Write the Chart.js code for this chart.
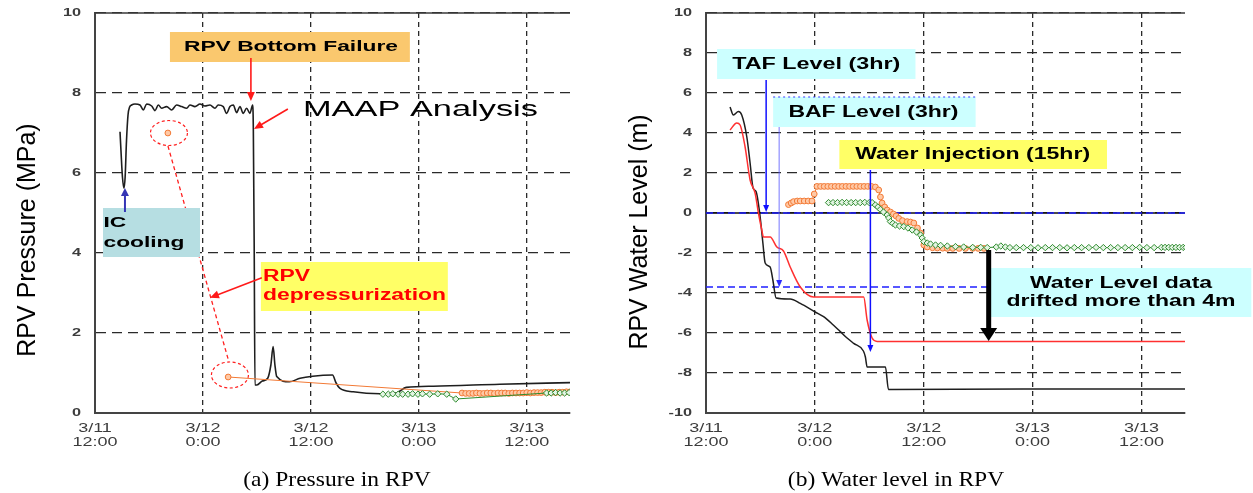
<!DOCTYPE html>
<html>
<head>
<meta charset="utf-8">
<script src="https://cdn.jsdelivr.net/npm/chart.js@4.4.0/dist/chart.umd.min.js"></script>
<style>
    html, body { margin: 0; padding: 0; background: #fff; }
    #wrap { position: relative; width: 1253px; height: 493px; overflow: hidden; background: #fff; }
    canvas { position: absolute; top: 0; }
</style>
</head>
<body>
<div id="wrap">
    <canvas id="pressureChart" width="620" height="493" style="left:0;width:620px;height:493px"></canvas>
    <canvas id="levelChart" width="633" height="493" style="left:620px;width:633px;height:493px"></canvas>
</div>
<script>
// x values are hours after 3/11 12:00
var xTickLabels = [['3/11', '12:00'], ['3/12', '0:00'], ['3/12', '12:00'], ['3/13', '0:00'], ['3/13', '12:00']];

// (a) RPV pressure, MPa
var pressureMaapHours = [2.78, 2.9, 3.05, 3.22, 3.35, 3.5, 3.67, 3.85, 4.07, 4.44, 5.0, 5.37, 5.74, 6.3, 6.67, 7.04, 7.41, 7.96, 8.52, 9.07, 9.63, 10.19, 10.56, 11.11, 11.67, 12.22, 12.78, 13.33, 13.7, 14.26, 14.63, 15.0, 15.37, 15.74, 16.11, 16.48, 16.85, 17.22, 17.52, 17.6, 17.7, 17.78, 18.0, 18.6, 19.2, 19.55, 19.8, 20.0, 20.2, 21.6, 22.8, 24.2, 26.4, 26.8, 27.2, 28.7, 31.7, 33.5, 34.6, 37.6, 45.0, 52.8];
var pressureMaapValues = [7.03, 6.5, 5.9, 5.62, 5.9, 6.8, 7.45, 7.65, 7.7, 7.725, 7.7, 7.575, 7.725, 7.675, 7.56, 7.7, 7.62, 7.66, 7.575, 7.7, 7.66, 7.62, 7.7, 7.66, 7.725, 7.675, 7.7, 7.62, 7.7, 7.66, 7.49, 7.66, 7.7, 7.51, 7.66, 7.49, 7.62, 7.49, 7.7, 7.1, 4.0, 0.7, 0.7, 0.8, 0.87, 1.2, 1.66, 1.2, 0.91, 0.78, 0.87, 0.92, 0.95, 0.75, 0.62, 0.53, 0.48, 0.5, 0.64, 0.67, 0.72, 0.76];
var pressureOrangeHours = [8.1, 11.0, 14.8, 40.8, 41.2, 41.6, 42.0, 42.4, 42.8, 43.2, 43.6, 44.0, 44.4, 44.8, 45.2, 45.6, 46.0, 46.4, 46.8, 47.2, 47.6, 48.0, 48.4, 48.8, 49.2, 49.6, 50.0, 50.4, 50.8, 51.2, 51.6, 52.0, 52.4, 52.8];
var pressureOrangeValues = [7.0, null, 0.9, 0.5, 0.49, 0.49, 0.49, 0.5, 0.49, 0.49, 0.5, 0.5, 0.49, 0.5, 0.5, 0.5, 0.49, 0.5, 0.5, 0.5, 0.5, 0.51, 0.5, 0.51, 0.51, 0.51, 0.52, 0.52, 0.52, 0.51, 0.52, 0.52, 0.53, 0.53];
var pressureGreenHours = [32.0, 32.6, 33.1, 33.7, 34.2, 34.8, 35.3, 35.9, 36.4, 37.2, 38.1, 39.1, 40.1, 50.2, 50.7, 51.2, 51.7, 52.2, 52.7];
var pressureGreenValues = [0.47, 0.47, 0.48, 0.47, 0.47, 0.47, 0.48, 0.47, 0.48, 0.47, 0.48, 0.47, 0.35, 0.5, 0.5, 0.51, 0.5, 0.5, 0.51];

// (b) RPV water level, m
var levelMaapHours = [2.65, 3.02, 3.57, 3.94, 4.5, 4.86, 5.19, 5.52, 5.97, 6.27, 6.52, 7.07, 7.37, 7.73, 9.28, 10.39, 12.04, 12.96, 14.03, 14.8, 15.55, 16.28, 17.35, 17.57, 17.76, 19.78, 20.11, 35.0, 52.9];
var levelMaapValues = [5.3, 4.9, 5.07, 4.9, 3.8, 2.5, 1.25, 1.07, -0.2, -1.5, -2.5, -2.7, -3.35, -4.25, -4.3, -4.52, -4.95, -5.18, -5.6, -5.93, -6.25, -6.52, -6.9, -7.2, -7.7, -7.7, -8.82, -8.8, -8.8];
var levelRedHours = [2.65, 3.39, 3.76, 4.31, 4.86, 5.41, 5.78, 6.15, 6.33, 7.07, 7.81, 8.54, 9.28, 10.39, 11.86, 17.38, 17.76, 18.31, 18.86, 52.9];
var levelRedValues = [4.15, 4.5, 4.4, 3.3, 1.65, 1.0, 0.0, -0.85, -1.2, -1.2, -1.7, -1.9, -2.7, -3.7, -4.2, -4.2, -5.35, -6.25, -6.42, -6.43];
var levelOrangeHours = [9.09, 9.39, 9.65, 10.06, 10.39, 10.83, 11.27, 11.68, 11.93, 12.23, 12.63, 13.03, 13.43, 13.83, 14.23, 14.63, 15.03, 15.43, 15.83, 16.23, 16.63, 17.03, 17.43, 17.83, 18.23, 18.67, 19.04, 19.23, 19.41, 19.7, 19.97, 20.33, 20.66, 20.95, 21.25, 21.66, 22.18, 22.54, 22.91, 23.31, 23.65, 24.01, 24.39, 24.97, 25.5, 26.1, 26.6, 27.2, 27.9, 28.6, 29.4, 30.0, 30.64];
var levelOrangeValues = [0.42, 0.5, 0.57, 0.6, 0.6, 0.6, 0.6, 0.6, 0.95, 1.33, 1.33, 1.33, 1.33, 1.33, 1.33, 1.33, 1.33, 1.33, 1.33, 1.33, 1.33, 1.33, 1.33, 1.33, 1.33, 1.3, 1.15, 0.8, 0.5, 0.3, 0.15, 0.05, -0.05, -0.15, -0.27, -0.38, -0.43, -0.45, -0.5, -0.75, -1.0, -1.6, -1.7, -1.74, -1.75, -1.76, -1.77, -1.77, -1.77, -1.77, -1.77, -1.77, -1.77];
var levelGreenHours = [13.51, 14.0, 14.5, 15.0, 15.5, 16.0, 16.5, 17.0, 17.5, 18.0, 18.31, 18.67, 18.95, 19.23, 19.56, 19.97, 20.14, 20.33, 20.6, 20.88, 21.33, 21.8, 22.26, 22.73, 23.2, 23.65, 23.83, 24.01, 24.39, 24.75, 25.3, 25.86, 26.6, 27.5, 28.4, 29.4, 30.28, 31.0, 32.0, 32.5, 33.0, 33.5, 34.2, 35.0, 35.8, 36.6, 37.4, 38.2, 39.0, 39.8, 40.6, 41.4, 42.2, 43.0, 43.8, 44.6, 45.4, 46.2, 47.0, 47.8, 48.6, 49.4, 50.2, 50.6, 51.0, 51.4, 51.8, 52.2, 52.6, 52.9];
var levelGreenValues = [0.52, 0.52, 0.52, 0.53, 0.52, 0.52, 0.52, 0.52, 0.53, 0.52, 0.52, 0.4, 0.3, 0.18, 0.05, -0.1, -0.25, -0.43, -0.52, -0.6, -0.65, -0.68, -0.75, -0.85, -0.95, -1.1, -1.25, -1.43, -1.5, -1.55, -1.6, -1.62, -1.65, -1.68, -1.7, -1.72, -1.72, -1.73, -1.7, -1.65, -1.7, -1.73, -1.73, -1.73, -1.73, -1.74, -1.73, -1.73, -1.73, -1.74, -1.73, -1.73, -1.73, -1.72, -1.73, -1.73, -1.73, -1.73, -1.73, -1.72, -1.73, -1.73, -1.72, -1.72, -1.72, -1.72, -1.72, -1.72, -1.72, -1.72];

var SANS = '"Liberation Sans", Arial, Helvetica, sans-serif';
var SERIF = '"Liberation Serif", "Times New Roman", serif';

var pts = function (hours, values) {
    return hours.map(function (h, i) { return { x: h, y: values[i] }; });
};

var stretchText = function (ctx, text, x, y, font, color, sx, align) {
    ctx.save();
    ctx.font = font;
    ctx.fillStyle = color;
    ctx.textAlign = align || 'center';
    ctx.textBaseline = 'middle';
    ctx.translate(x, y);
    ctx.scale(sx, 1);
    ctx.fillText(text, 0, 0);
    ctx.restore();
};

var strokeLine = function (ctx, x1, y1, x2, y2, color, width, dash) {
    ctx.save();
    ctx.strokeStyle = color;
    ctx.lineWidth = width;
    ctx.setLineDash(dash || []);
    ctx.beginPath();
    ctx.moveTo(x1, y1);
    ctx.lineTo(x2, y2);
    ctx.stroke();
    ctx.restore();
};

var drawArrow = function (ctx, x1, y1, x2, y2, color, headColor, lw, hl, hw) {
    var a = Math.atan2(y2 - y1, x2 - x1);
    strokeLine(ctx, x1, y1, x2 - Math.cos(a) * hl * 0.7, y2 - Math.sin(a) * hl * 0.7, color, lw);
    ctx.save();
    ctx.fillStyle = headColor;
    ctx.translate(x2, y2);
    ctx.rotate(a);
    ctx.beginPath();
    ctx.moveTo(0, 0);
    ctx.lineTo(-hl, -hw / 2);
    ctx.lineTo(-hl, hw / 2);
    ctx.closePath();
    ctx.fill();
    ctx.restore();
};

// annotation layer, everything anchored in data units through the chart's scales
var notesPlugin = function (notes) {
    return {
        id: 'notes',
        beforeDatasetsDraw: function (chart) {
            var ctx = chart.ctx, a = chart.chartArea, ys = chart.scales.y;
            strokeLine(ctx, a.left, a.top, a.right, a.top, '#3a3a3a', 1.3);
            (notes.solidLevels || []).forEach(function (v) {
                var y = ys.getPixelForValue(v);
                strokeLine(ctx, a.left, y, a.right, y, '#111', 1.3);
            });
            (notes.refLevels || []).forEach(function (v) {
                var y = ys.getPixelForValue(v);
                strokeLine(ctx, a.left, y, a.right, y, '#1f1fff', 1.5, [7, 4]);
            });
        },
        afterDatasetsDraw: function (chart) {
            var ctx = chart.ctx, xs = chart.scales.x, ys = chart.scales.y;
            var X = function (v) { return xs.getPixelForValue(v); };
            var Y = function (v) { return ys.getPixelForValue(v); };
            (notes.lines || []).forEach(function (l) {
                if (!l.above) strokeLine(ctx, X(l.x1), Y(l.y1), X(l.x2), Y(l.y2), l.color, l.lw, l.dash);
            });
            (notes.ellipses || []).forEach(function (e) {
                ctx.save();
                ctx.strokeStyle = '#ff2020';
                ctx.lineWidth = 1.2;
                ctx.setLineDash([3, 2.5]);
                ctx.beginPath();
                ctx.ellipse(X(e.x), Y(e.y), e.rx, e.ry, 0, 0, Math.PI * 2);
                ctx.stroke();
                ctx.restore();
            });
            (notes.boxes || []).forEach(function (b) {
                ctx.fillStyle = b.fill;
                ctx.fillRect(X(b.x0), Y(b.y0), X(b.x1) - X(b.x0), Y(b.y1) - Y(b.y0));
            });
            (notes.lines || []).forEach(function (l) {
                if (l.above) strokeLine(ctx, X(l.x1), Y(l.y1), X(l.x2), Y(l.y2), l.color, l.lw, l.dash);
            });
            (notes.arrows || []).forEach(function (r) {
                drawArrow(ctx, X(r.x1), Y(r.y1), X(r.x2), Y(r.y2), r.color, r.head || r.color, r.lw, r.hl, r.hw);
            });
            (notes.texts || []).forEach(function (t) {
                ctx.save();
                ctx.font = t.font;
                var widest = Math.max.apply(null, t.lines.map(function (s) { return ctx.measureText(s).width; }));
                ctx.restore();
                var sx = t.w / widest;
                t.lines.forEach(function (s, i) {
                    stretchText(ctx, s, X(t.x), Y(t.y) + i * (t.gap || 0), t.font, t.color, sx, t.align);
                });
            });
        },
        afterDraw: function (chart) {
            var ctx = chart.ctx, a = chart.chartArea, xs = chart.scales.x, ys = chart.scales.y;
            xs.ticks.forEach(function (t) {
                var lab = xTickLabels[Math.round(t.value / 12)];
                if (!lab) return;
                var px = xs.getPixelForValue(t.value);
                stretchText(ctx, lab[0], px, a.bottom + 16, '12px ' + SANS, '#3c3c3c', 1.5);
                stretchText(ctx, lab[1], px, a.bottom + 30, '12px ' + SANS, '#3c3c3c', 1.5);
            });
            ys.ticks.forEach(function (t) {
                stretchText(ctx, String(t.value), a.left - 14, ys.getPixelForValue(t.value), 'bold 10.5px ' + SANS, '#3c3c3c', 1.55, 'right');
            });
            ctx.save();
            ctx.font = '25px ' + SANS;
            ctx.fillStyle = '#000';
            ctx.textAlign = 'center';
            ctx.textBaseline = 'middle';
            ctx.translate(notes.title.x, notes.title.y);
            ctx.rotate(-Math.PI / 2);
            ctx.fillText(notes.title.text, 0, 0);
            ctx.restore();
            stretchText(ctx, notes.caption.text, notes.caption.x, notes.caption.y, '21px ' + SERIF, '#000', 1.12);
        }
    };
};

var makeOptions = function (yMin, yMax, axisWidth, padRight) {
    return {
        responsive: false,
        animation: false,
        events: [],
        layout: { padding: { top: 13, right: padRight, bottom: 0, left: 0 } },
        plugins: { legend: { display: false }, tooltip: { enabled: false } },
        scales: {
            x: {
                type: 'linear', min: 0, max: 52.8,
                afterFit: function (s) { s.height = 80; },
                ticks: { display: false, stepSize: 12, includeBounds: false, autoSkip: false },
                grid: { color: '#2a2a2a', lineWidth: 1.3, drawTicks: false },
                border: { color: '#444', width: 2, dash: [5, 4] }
            },
            y: {
                type: 'linear', min: yMin, max: yMax,
                afterFit: function (s) { s.width = axisWidth; },
                ticks: { display: false, stepSize: 2 },
                grid: { color: '#2a2a2a', lineWidth: 1.2, drawTicks: false },
                border: { color: '#444', width: 2, dash: [10, 6] }
            }
        }
    };
};

var greenStyle = {
    borderColor: '#2e8b2e', borderWidth: 1, pointStyle: 'rectRot', pointRadius: 3.2,
    pointBackgroundColor: '#e4f4e4', pointBorderColor: '#2e8b2e', pointBorderWidth: 1
};
var orangeStyle = {
    borderColor: '#f27a36', borderWidth: 1, pointStyle: 'circle', pointRadius: 2.9,
    pointBackgroundColor: '#ffc9a6', pointBorderColor: '#f27a36', pointBorderWidth: 1
};

var leftNotes = {
    title: { text: 'RPV Pressure (MPa)', x: 28, y: 240 },
    caption: { text: '(a) Pressure in RPV', x: 337, y: 480 },
    boxes: [
        { x0: 8.33, x1: 35.0, y0: 9.525, y1: 8.775, fill: '#fac86e' },
        { x0: 18.44, x1: 39.22, y0: 3.775, y1: 2.55, fill: '#ffff66' },
        { x0: 0.89, x1: 11.67, y0: 5.125, y1: 3.9, fill: '#b6dee2' }
    ],
    lines: [
        { x1: 8.11, y1: 6.675, x2: 14.89, y2: 1.275, color: '#ff2020', lw: 1.3, dash: [4, 3] }
    ],
    ellipses: [
        { x: 8.22, y: 7.0, rx: 18.5, ry: 12.5 },
        { x: 15.0, y: 0.95, rx: 18.5, ry: 13 }
    ],
    arrows: [
        { x1: 17.33, y1: 8.875, x2: 17.33, y2: 7.8, color: '#ff1a1a', lw: 1.6, hl: 9, hw: 8 },
        { x1: 21.44, y1: 7.6, x2: 17.67, y2: 7.1, color: '#ff1a1a', lw: 1.6, hl: 9, hw: 8 },
        { x1: 18.55, y1: 3.38, x2: 12.78, y2: 2.88, color: '#ff1a1a', lw: 1.6, hl: 9, hw: 8 },
        { x1: 3.33, y1: 5.025, x2: 3.33, y2: 5.625, color: '#3535b5', lw: 2, hl: 8, hw: 8 }
    ],
    texts: [
        { x: 21.78, y: 9.15, lines: ['RPV Bottom Failure'], font: 'bold 15px ' + SANS, color: '#000', w: 214 },
        { x: 23.11, y: 7.575, lines: ['MAAP Analysis'], font: '22px ' + SANS, color: '#000', w: 235, align: 'left' },
        { x: 18.67, y: 3.4, lines: ['RPV', 'depressurization'], gap: 19, font: 'bold 16px ' + SANS, color: '#ff0000', w: 183, align: 'left' },
        { x: 0.94, y: 4.76, lines: ['IC', 'cooling'], gap: 20, font: 'bold 15px ' + SANS, color: '#000', w: 81, align: 'left' }
    ]
};

var rightNotes = {
    title: { text: 'RPV Water Level (m)', x: 20, y: 232 },
    caption: { text: '(b) Water level in RPV', x: 276, y: 480 },
    solidLevels: [0],
    refLevels: [0, -3.7],
    boxes: [
        { x0: 1.22, x1: 23.09, y0: 8.2, y1: 6.7, fill: '#ccffff' },
        { x0: 7.4, x1: 29.72, y0: 5.8, y1: 4.3, fill: '#ccffff' },
        { x0: 14.7, x1: 44.2, y0: 3.65, y1: 2.2, fill: '#ffff66' },
        { x0: 31.38, x1: 60.11, y0: -2.75, y1: -5.2, fill: '#ccffff' }
    ],
    lines: [
        { x1: 7.4, y1: 5.8, x2: 29.72, y2: 5.8, color: '#3a3aff', lw: 1.2, dash: [2, 3], above: true }
    ],
    arrows: [
        { x1: 6.63, y1: 6.65, x2: 6.63, y2: 0.05, color: '#1010ff', lw: 1.5, hl: 7, hw: 6 },
        { x1: 8.07, y1: 4.3, x2: 8.07, y2: -3.7, color: 'rgba(90,90,255,0.55)', head: '#2a2aff', lw: 1.5, hl: 7, hw: 6 },
        { x1: 18.12, y1: 2.15, x2: 18.12, y2: -6.95, color: '#1010ff', lw: 1.5, hl: 7, hw: 6 },
        { x1: 31.16, y1: -1.85, x2: 31.16, y2: -6.4, color: '#000', lw: 5, hl: 13, hw: 17 }
    ],
    texts: [
        { x: 12.15, y: 7.425, lines: ['TAF Level (3hr)'], font: 'bold 16px ' + SANS, color: '#000', w: 168 },
        { x: 18.45, y: 5.025, lines: ['BAF Level (3hr)'], font: 'bold 16px ' + SANS, color: '#000', w: 170 },
        { x: 29.39, y: 2.9, lines: ['Water Injection (15hr)'], font: 'bold 16px ' + SANS, color: '#000', w: 235 },
        { x: 45.75, y: -3.55, lines: ['Water Level data', 'drifted more than 4m'], gap: 18, font: 'bold 16px ' + SANS, color: '#000', w: 229 }
    ]
};

var pressureChart = new Chart('pressureChart', {
    type: 'line',
    data: {
        datasets: [
            Object.assign({ order: 0, data: pts(pressureGreenHours, pressureGreenValues) }, greenStyle),
            Object.assign({ order: 1, data: pts(pressureOrangeHours, pressureOrangeValues), spanGaps: false }, orangeStyle),
            { order: 2, data: pts(pressureMaapHours, pressureMaapValues), borderColor: '#1e1e1e', borderWidth: 1.6, pointRadius: 0, cubicInterpolationMode: 'monotone' }
        ]
    },
    options: makeOptions(0, 10, 95, 50),
    plugins: [notesPlugin(leftNotes)]
});

var levelChart = new Chart('levelChart', {
    type: 'line',
    data: {
        datasets: [
            Object.assign({ order: 0, data: pts(levelGreenHours, levelGreenValues) }, greenStyle),
            Object.assign({ order: 1, data: pts(levelOrangeHours, levelOrangeValues) }, orangeStyle),
            { order: 2, data: pts(levelRedHours, levelRedValues), borderColor: '#ff3030', borderWidth: 1.5, pointRadius: 0, cubicInterpolationMode: 'monotone' },
            { order: 3, data: pts(levelMaapHours, levelMaapValues), borderColor: '#1e1e1e', borderWidth: 1.5, pointRadius: 0, cubicInterpolationMode: 'monotone' }
        ]
    },
    options: makeOptions(-10, 10, 86, 68),
    plugins: [notesPlugin(rightNotes)]
});
</script>
</body>
</html>
